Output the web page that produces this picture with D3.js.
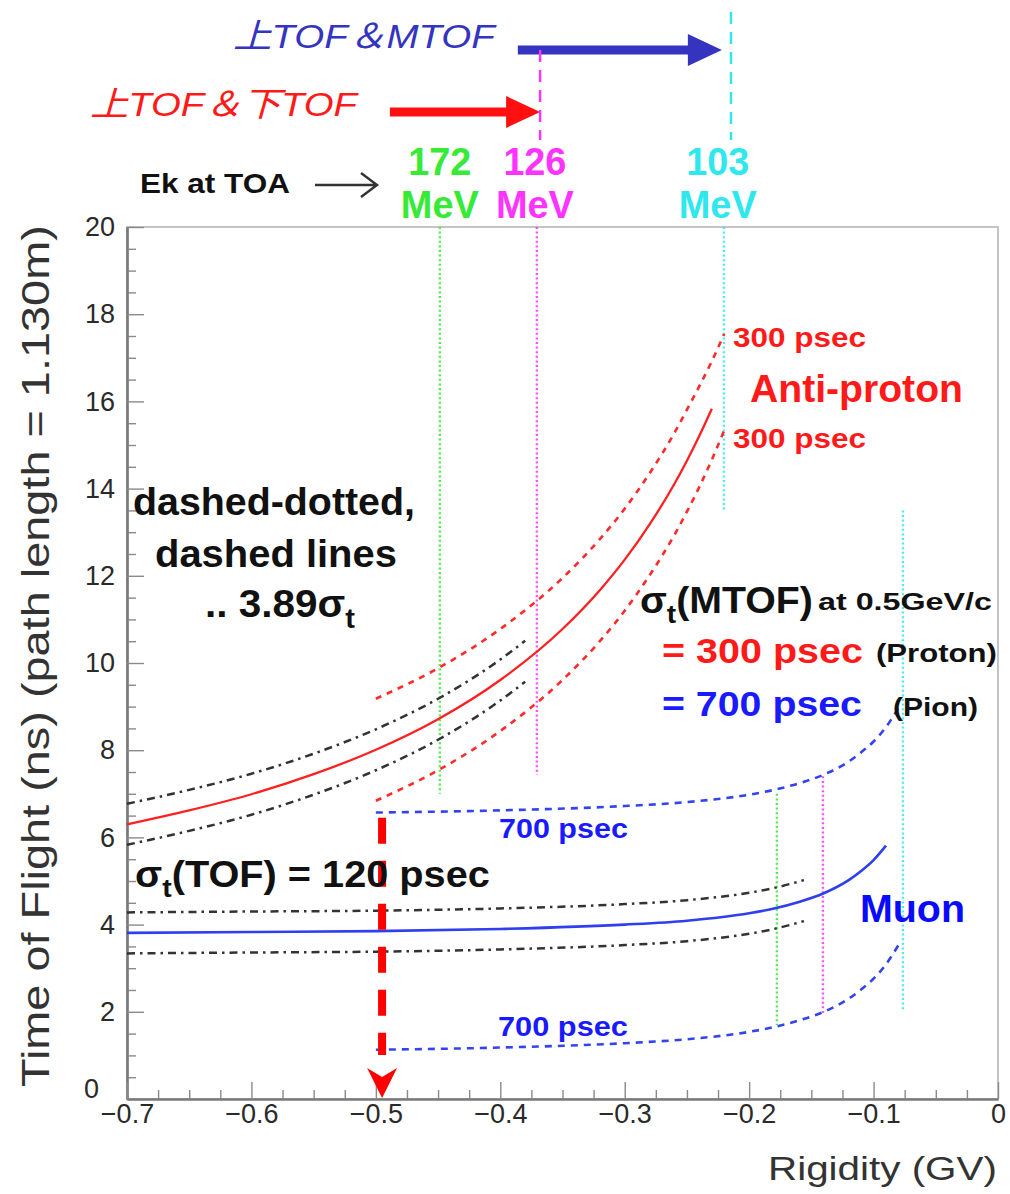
<!DOCTYPE html>
<html>
<head>
<meta charset="utf-8">
<script src="https://cdn.jsdelivr.net/npm/d3@7"></script>
<style>
  body { margin: 0; background: #fff; }
</style>
</head>
<body>
<svg id="chart" width="1010" height="1194"></svg>
<script>
// ---------------- data ----------------
const rigidityTicks = [-0.7, -0.6, -0.5, -0.4, -0.3, -0.2, -0.1, 0];
const rigidityTickLabels = ["\u22120.7", "\u22120.6", "\u22120.5", "\u22120.4", "\u22120.3", "\u22120.2", "\u22120.1", "0"];
const tofTicks = [0, 2, 4, 6, 8, 10, 12, 14, 16, 18, 20];
const tofTickLabels = ["0", "2", "4", "6", "8", "10", "12", "14", "16", "18", "20"];

// anti-proton time of flight [rigidity GV, ns]
const antiprotonTof = [[-0.70, 6.30], [-0.65, 6.62], [-0.60, 6.99], [-0.55, 7.45], [-0.50, 8.01], [-0.45, 8.71],
  [-0.40, 9.61], [-0.35, 10.78], [-0.32, 11.67], [-0.30, 12.37], [-0.28, 13.18], [-0.26, 14.11], [-0.25, 14.64],
  [-0.24, 15.21], [-0.23, 15.83]];
// TOF resolution band (3.89 sigma, 120 ps) around anti-proton
const antiprotonTofUpper = [[-0.70, 6.77], [-0.65, 7.09], [-0.60, 7.46], [-0.55, 7.92], [-0.50, 8.48], [-0.45, 9.18], [-0.40, 10.08], [-0.38, 10.51]];
const antiprotonTofLower = [[-0.70, 5.83], [-0.65, 6.15], [-0.60, 6.52], [-0.55, 6.98], [-0.50, 7.54], [-0.45, 8.24], [-0.40, 9.14], [-0.38, 9.57]];
// MTOF resolution band (3.89 sigma, 300 ps) around anti-proton
const antiprotonMtofUpper = [[-0.50, 9.18], [-0.45, 9.88], [-0.40, 10.78], [-0.35, 11.95], [-0.32, 12.84], [-0.30, 13.54],
  [-0.28, 14.35], [-0.26, 15.28], [-0.25, 15.81], [-0.24, 16.35], [-0.23, 16.92], [-0.22, 17.55]];
const antiprotonMtofLower = [[-0.50, 6.84], [-0.45, 7.54], [-0.40, 8.44], [-0.35, 9.61], [-0.32, 10.50], [-0.30, 11.20],
  [-0.28, 12.01], [-0.26, 12.94], [-0.25, 13.47], [-0.24, 14.04], [-0.23, 14.66], [-0.22, 15.34]];

// muon time of flight
const muonTof = [[-0.70, 3.81], [-0.60, 3.83], [-0.50, 3.85], [-0.40, 3.90], [-0.30, 4.00], [-0.25, 4.09], [-0.20, 4.26],
  [-0.18, 4.37], [-0.16, 4.52], [-0.14, 4.72], [-0.12, 5.02], [-0.11, 5.23], [-0.10, 5.48], [-0.09, 5.81]];
const muonTofUpper = [[-0.70, 4.28], [-0.60, 4.30], [-0.50, 4.32], [-0.40, 4.37], [-0.30, 4.47], [-0.25, 4.56], [-0.20, 4.73], [-0.18, 4.84], [-0.156, 5.02]];
const muonTofLower = [[-0.70, 3.34], [-0.60, 3.36], [-0.50, 3.38], [-0.40, 3.43], [-0.30, 3.53], [-0.25, 3.62], [-0.20, 3.79], [-0.18, 3.90], [-0.156, 4.08]];
const muonMtofUpper = [[-0.50, 6.57], [-0.40, 6.62], [-0.30, 6.72], [-0.25, 6.81], [-0.20, 6.98], [-0.18, 7.09], [-0.16, 7.24],
  [-0.14, 7.44], [-0.12, 7.74], [-0.11, 7.95], [-0.10, 8.20], [-0.09, 8.53], [-0.08, 8.97]];
const muonMtofLower = [[-0.50, 1.13], [-0.40, 1.18], [-0.30, 1.28], [-0.25, 1.37], [-0.20, 1.54], [-0.18, 1.65], [-0.16, 1.80],
  [-0.14, 2.00], [-0.12, 2.30], [-0.11, 2.51], [-0.10, 2.76], [-0.09, 3.09], [-0.08, 3.53]];

// kinetic energy at top of atmosphere marking the rigidity cuts
const energyLabels = ["172", "126", "103"];
const protonCutRigidity = [-0.4486, -0.3706, -0.2203];
const protonCutSpan = [[7.0, 20], [7.43, 20], [13.5, 20]];
const muonCutRigidity = [-0.1777, -0.1407, -0.0764];
const muonCutSpan = [[1.70, 7.0], [1.97, 7.4], [2.0, 13.5]];
const energyLabelRigidity = [-0.4486, -0.3722, -0.2252];

// detector combination reach (rigidity, start -> end)
const reachTopLower = [-0.4887, -0.368];
const reachTopMiddle = [-0.3859, -0.2219];
const reachMarkers = [-0.368, -0.2146];
const tofCutRigidity = -0.495;
const tofCutStart = 6.45;

// ---------------- drawing ----------------
const svg = d3.select("#chart");
const FONT = "'Liberation Sans', Arial, Helvetica, sans-serif";
const CJK = "'Liberation Sans', 'Noto Sans CJK JP', sans-serif";

const x = d3.scaleLinear().domain([-0.7, 0]).range([127, 998]);
const y = d3.scaleLinear().domain([0, 20]).range([1099, 227]);

const green = "#36ea36", magenta = "#ff33ff", cyan = "#2ee8ee";
const energyColors = [green, magenta, cyan];

// frame
svg.append("rect").attr("x", x(-0.7)).attr("y", y(20)).attr("width", x(0) - x(-0.7)).attr("height", y(0) - y(20))
  .attr("fill", "none").attr("stroke", "#c4c4c4").attr("stroke-width", 2);

// axes with inward ticks
function styleAxis(g) {
  g.select(".domain").attr("stroke", "#7a7a7a").attr("stroke-width", 2.2);
  g.selectAll(".tick line").attr("stroke", "#8a8a8a").attr("stroke-width", 1.4);
  g.selectAll("text").attr("font-family", FONT).attr("font-size", 27).attr("fill", "#2a2a2a");
}
const minorY = d3.range(0, 20.001, 0.5).filter(v => Math.abs(v / 2 - Math.round(v / 2)) > 1e-6);
const minorX = d3.range(-0.7, 0.0001, 0.025).filter(v => Math.abs(v * 10 - Math.round(v * 10)) > 1e-6);

svg.append("g").attr("transform", `translate(${x(-0.7)},0)`)
  .call(d3.axisLeft(y).tickValues(minorY).tickSize(-9).tickSizeOuter(0).tickFormat(""))
  .call(styleAxis);
svg.append("g").attr("transform", `translate(0,${y(0)})`)
  .call(d3.axisBottom(x).tickValues(minorX).tickSize(-9).tickSizeOuter(0).tickFormat(""))
  .call(styleAxis);
const yAxis = svg.append("g").attr("transform", `translate(${x(-0.7)},0)`)
  .call(d3.axisLeft(y).tickValues(tofTicks).tickSize(-17).tickSizeOuter(0).tickPadding(12)
    .tickFormat((d, i) => tofTickLabels[i]))
  .call(styleAxis);
// the origin label is tucked left of the corner so it clears the rigidity labels
yAxis.selectAll(".tick").filter(d => d === 0).select("text").attr("dy", "-0.05em").attr("x", -28);
svg.append("g").attr("transform", `translate(0,${y(0)})`)
  .call(d3.axisBottom(x).tickValues(rigidityTicks).tickSize(-17).tickSizeOuter(0).tickPadding(5)
    .tickFormat((d, i) => rigidityTickLabels[i]))
  .call(styleAxis);

// text helper: place a label and stretch it to a given width
function label(opts) {
  const o = Object.assign({ weight: "bold", fill: "#000", anchor: "start", family: FONT, style: "normal", rotate: 0 }, opts);
  const t = svg.append("text")
    .attr("font-family", o.family).attr("font-size", o.size).attr("font-weight", o.weight)
    .attr("font-style", o.style).attr("fill", o.fill);
  const parts = o.parts || [{ t: o.text }];
  let shifted = false;
  parts.forEach(p => {
    const s = t.append("tspan").text(p.t);
    if (p.sub) { s.attr("font-size", o.size * 0.72).attr("dy", o.size * 0.28); shifted = true; }
    else if (shifted) { s.attr("dy", -o.size * 0.28); shifted = false; }
  });
  const w0 = t.node().getComputedTextLength();
  const sx = o.width ? o.width / w0 : 1;
  const w = w0 * sx;
  const off = o.anchor === "middle" ? -w / 2 : o.anchor === "end" ? -w : 0;
  if (o.rotate) {
    t.attr("transform", `translate(${o.x},${o.y}) rotate(${o.rotate}) translate(${off},0) scale(${sx},1)`);
  } else {
    t.attr("transform", `translate(${o.x + off},${o.y}) scale(${sx},1)`);
  }
  return t;
}

// axis titles
label({ text: "Time of Flight (ns) (path length = 1.130m)", x: 49, y: 656, rotate: -90, anchor: "middle",
  size: 39, weight: "normal", fill: "#333", width: 862 });
label({ text: "Rigidity (GV)", x: 997, y: 1180, anchor: "end", size: 34, weight: "normal", fill: "#333", width: 229 });

// vertical energy-cut markers
const dotted = "2,2.6";
protonCutRigidity.forEach((r, i) => {
  svg.append("line").attr("x1", x(r)).attr("x2", x(r)).attr("y1", y(protonCutSpan[i][1])).attr("y2", y(protonCutSpan[i][0]))
    .attr("stroke", energyColors[i]).attr("stroke-width", 2.4).attr("stroke-dasharray", dotted).attr("opacity", 0.85);
});
muonCutRigidity.forEach((r, i) => {
  svg.append("line").attr("x1", x(r)).attr("x2", x(r)).attr("y1", y(muonCutSpan[i][1])).attr("y2", y(muonCutSpan[i][0]))
    .attr("stroke", energyColors[i]).attr("stroke-width", 2.4).attr("stroke-dasharray", dotted).attr("opacity", 0.85);
});

// curves
const line = d3.line().x(d => x(d[0])).y(d => y(d[1])).curve(d3.curveMonotoneX);
function curve(data, color, width, dash) {
  svg.append("path").datum(data).attr("d", line).attr("fill", "none")
    .attr("stroke", color).attr("stroke-width", width).attr("stroke-dasharray", dash || null)
    .attr("stroke-linecap", "butt");
}
const dashDot = "8,5,2.5,5";
curve(antiprotonTofUpper, "#333", 2.5, dashDot);
curve(antiprotonTofLower, "#333", 2.5, dashDot);
curve(muonTofUpper, "#333", 2.5, dashDot);
curve(muonTofLower, "#333", 2.5, dashDot);
curve(antiprotonMtofUpper, "#ff2a2a", 2.6, "6,6");
curve(antiprotonMtofLower, "#ff2a2a", 2.6, "6,6");
curve(muonMtofUpper, "#3344ee", 2.6, "7,6");
curve(muonMtofLower, "#3344ee", 2.6, "7,6");
curve(antiprotonTof, "#ff2020", 2.3);
curve(muonTof, "#2f3ff0", 2.6);

// TOF-only reach: heavy dashed arrow down to the axis
const xc = x(tofCutRigidity);
svg.append("line").attr("x1", xc).attr("x2", xc).attr("y1", y(tofCutStart)).attr("y2", y(0) - 44)
  .attr("stroke", "#ff0000").attr("stroke-width", 8).attr("stroke-dasharray", "26,17");
svg.append("path")
  .attr("d", `M${xc},${y(0) - 1} L${xc - 15},${y(0) - 31} L${xc},${y(0) - 22} L${xc + 15},${y(0) - 31} Z`)
  .attr("fill", "#ff0000");

// detector combination arrows above the frame
function bigArrow(r0, r1, yy, color) {
  const x0 = x(r0), x1 = x(r1);
  svg.append("line").attr("x1", x0).attr("x2", x1 - 30).attr("y1", yy).attr("y2", yy)
    .attr("stroke", color).attr("stroke-width", 9);
  svg.append("path").attr("d", `M${x1 - 34},${yy - 16} L${x1},${yy} L${x1 - 34},${yy + 16} Z`).attr("fill", color);
}
bigArrow(reachTopMiddle[0], reachTopMiddle[1], 50, "#3434c0");
bigArrow(reachTopLower[0], reachTopLower[1], 112, "#ff1010");
svg.append("line").attr("x1", x(reachMarkers[0])).attr("x2", x(reachMarkers[0])).attr("y1", 50).attr("y2", 140)
  .attr("stroke", magenta).attr("stroke-width", 2.4).attr("stroke-dasharray", "12,8");
svg.append("line").attr("x1", x(reachMarkers[1])).attr("x2", x(reachMarkers[1])).attr("y1", 12).attr("y2", 140)
  .attr("stroke", cyan).attr("stroke-width", 2.4).attr("stroke-dasharray", "12,8");

label({ text: "上TOF＆MTOF", x: 233, y: 48, size: 34, weight: "normal", style: "italic", family: CJK, fill: "#3434c0", width: 262 });
label({ text: "上TOF＆下TOF", x: 90, y: 116, size: 34, weight: "normal", style: "italic", family: CJK, fill: "#ff1a1a", width: 267 });

// Ek at TOA labels
label({ text: "Ek at TOA", x: 140, y: 193, size: 27, fill: "#111", width: 150 });
svg.append("path").attr("d", "M315,185 L376,185 M361,173 L377,185 L361,197").attr("fill", "none")
  .attr("stroke", "#333").attr("stroke-width", 2.4);
energyLabels.forEach((e, i) => {
  const cx = x(energyLabelRigidity[i]);
  label({ text: e, x: cx, y: 175, anchor: "middle", size: 38, fill: energyColors[i], width: 63 });
  label({ text: "MeV", x: cx, y: 218, anchor: "middle", size: 38, fill: energyColors[i], width: 78 });
});

// annotations in the frame
label({ text: "300 psec", x: 733, y: 347, size: 28, fill: "#ff1a1a", width: 133 });
label({ text: "300 psec", x: 733, y: 448, size: 28, fill: "#ff1a1a", width: 133 });
label({ text: "Anti-proton", x: 750, y: 402, size: 38, fill: "#ff1a1a", width: 213 });

label({ text: "dashed-dotted,", x: 133, y: 515, size: 38, fill: "#111", width: 282 });
label({ text: "dashed lines", x: 155, y: 567, size: 38, fill: "#111", width: 242 });
label({ parts: [{ t: ".. 3.89σ" }, { t: "t", sub: true }], x: 205, y: 617, size: 38, fill: "#111", width: 150 });

label({ parts: [{ t: "σ" }, { t: "t", sub: true }, { t: "(MTOF)" }], x: 640, y: 613, size: 36, fill: "#111", width: 173 });
label({ text: "at 0.5GeV/c", x: 818, y: 610, size: 24, fill: "#111", width: 174 });
label({ text: "= 300 psec", x: 662, y: 663, size: 36, fill: "#ff1a1a", width: 201 });
label({ text: "(Proton)", x: 876, y: 662, size: 25, fill: "#111", width: 121 });
label({ text: "= 700 psec", x: 662, y: 716, size: 36, fill: "#1a1aff", width: 200 });
label({ text: "(Pion)", x: 893, y: 716, size: 25, fill: "#111", width: 85 });

label({ parts: [{ t: "σ" }, { t: "t", sub: true }, { t: "(TOF) = 120 psec" }], x: 135, y: 887, size: 36, fill: "#111", width: 355 });
label({ text: "700 psec", x: 499, y: 838, size: 28, fill: "#1a1aff", width: 129 });
label({ text: "700 psec", x: 498, y: 1036, size: 28, fill: "#1a1aff", width: 130 });
label({ text: "Muon", x: 860, y: 922, size: 38, fill: "#0a0aff", width: 105 });
</script>
</body>
</html>
